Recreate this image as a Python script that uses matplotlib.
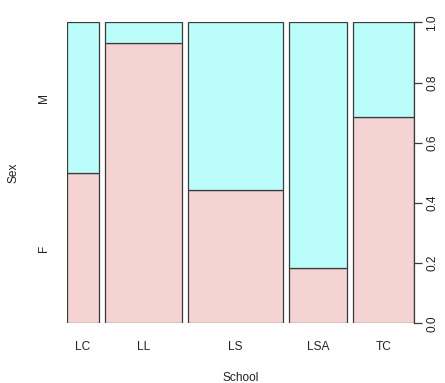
import numpy as np
import matplotlib
matplotlib.use("Agg")
import matplotlib.pyplot as plt
import matplotlib.transforms as mtransforms

# School shares (bar widths) and share of females within each school
schools = ["LC", "LL", "LS", "LSA", "TC"]
school_share = [0.0994, 0.239, 0.295, 0.180, 0.1895]
female_share = [0.50, 0.932, 0.444, 0.183, 0.687]
sex_levels = ["F", "M"]
y_ticks = [0.0, 0.2, 0.4, 0.6, 0.8, 1.0]

col_f = "#F6D3D3"
col_m = "#BBFDFB"
edge = "#3a3a3a"
gap = 0.02

plt.rcParams["font.family"] = ["Liberation Sans", "DejaVu Sans"]
fs = 8.6

fig = plt.figure(figsize=(4.45, 3.83), dpi=100)
W, H = 445, 383
left, right, top, bottom = 66.7, 414.3, 22.3, 323.3
ax = fig.add_axes([left / W, 1 - bottom / H, (right - left) / W, (bottom - top) / H])

widths = np.array(school_share) / np.sum(school_share)
lefts = np.concatenate([[0], np.cumsum(widths + gap)[:-1]])
fem = np.array(female_share)

ax.bar(lefts, fem, width=widths, align="edge", color=col_f,
       edgecolor=edge, linewidth=0.9)
ax.bar(lefts, 1 - fem, bottom=fem, width=widths, align="edge", color=col_m,
       edgecolor=edge, linewidth=0.9)

ax.set_xlim(0, 1 + gap * (len(schools) - 1))
ax.set_ylim(0, 1)

for s in ["top", "left", "bottom"]:
    ax.spines[s].set_visible(False)
ax.spines["right"].set_color(edge)
ax.spines["right"].set_linewidth(0.9)

ax.set_xticks(lefts + widths / 2)
ax.set_xticklabels(schools, fontsize=fs, color="#222222")
ax.tick_params(axis="x", length=0, pad=12.5)

ax.yaxis.tick_right()
ax.set_yticks(y_ticks)
ax.set_yticklabels([f"{v:.1f}" for v in y_ticks], fontsize=fs, color="#222222")
ax.tick_params(axis="y", right=True, left=False, length=5.8, width=0.9,
               color=edge, pad=3.0, labelrotation=90)
for lab in ax.get_yticklabels():
    lab.set_va("center")

# Sex level labels at the middle of the first school's segments
trans = mtransforms.blended_transform_factory(ax.transAxes, ax.transData)
mids = [fem[0] / 2, fem[0] + (1 - fem[0]) / 2]
x_lab = (44 - left) / (right - left)
for lvl, m in zip(sex_levels, mids):
    ax.text(x_lab, m, lvl, transform=trans, rotation=90, ha="center",
            va="center", fontsize=fs, color="#222222")

ax.text((13.5 - left) / (right - left), 0.5, "Sex", transform=ax.transAxes,
        rotation=90, ha="center", va="center", fontsize=fs, color="#222222")
fig.text(((left + right) / 2) / W, 1 - 378 / H, "School", ha="center",
         va="center", fontsize=fs, color="#222222")

fig.savefig("out.png", dpi=100)
